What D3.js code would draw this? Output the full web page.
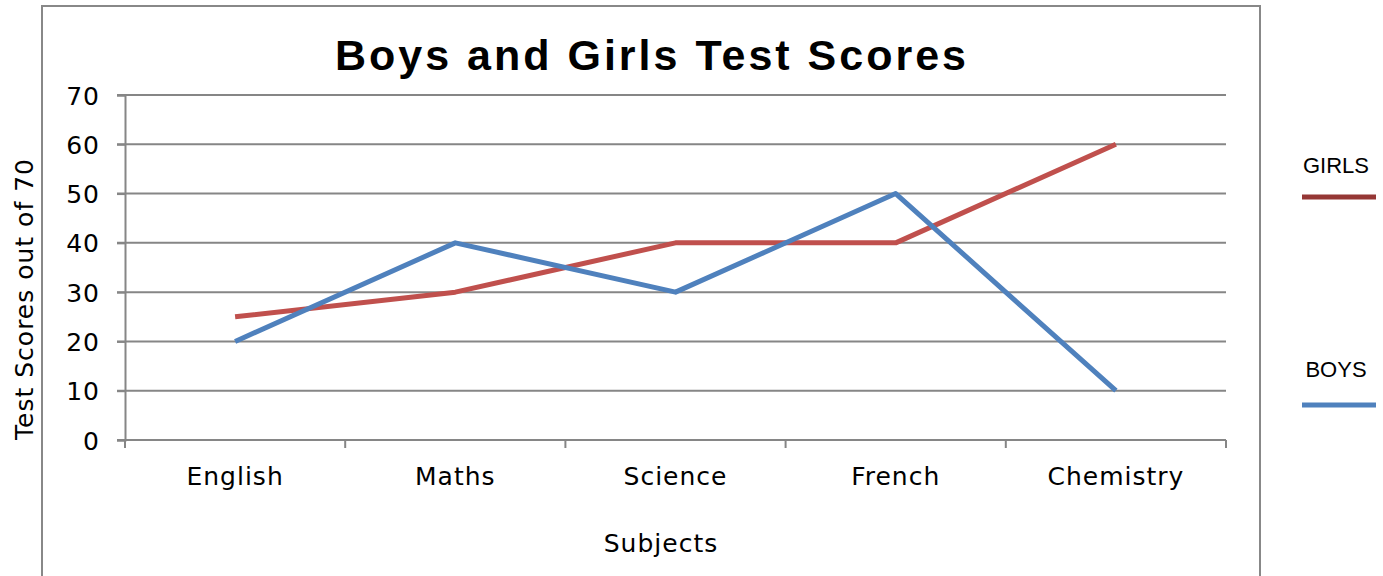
<!DOCTYPE html>
<html>
<head>
<meta charset="utf-8">
<script src="https://cdn.jsdelivr.net/npm/d3@7"></script>
<style>
  body { margin: 0; background: #fff; }
  svg { display: block; }
  .axis text { font-family: "DejaVu Sans", Verdana, sans-serif; font-size: 25px; letter-spacing: 1px; fill: #000; }
  .axis path, .axis line { stroke: #868686; stroke-width: 2px; }
</style>
</head>
<body>
<svg id="chartSvg" width="1383" height="576"></svg>
<script>
var subjects = ["English", "Maths", "Science", "French", "Chemistry"]
var girlsScores = [25, 30, 40, 40, 60]
var boysScores = [20, 40, 30, 50, 10]
var yTicks = [0, 10, 20, 30, 40, 50, 60, 70]

var svg = d3.select('#chartSvg')
var plotLeft = 125, plotRight = 1226, plotTop = 95, plotBottom = 440

// outer chart frame
svg.append('rect')
    .attr('x', 42).attr('y', 6)
    .attr('width', 1218).attr('height', 600)
    .attr('fill', 'none')
    .attr('stroke', '#888').attr('stroke-width', 2)

var xScale = d3.scaleBand().domain(subjects).range([plotLeft, plotRight])
var yScale = d3.scaleLinear().domain([0, 70]).range([plotBottom, plotTop])

// gridlines
svg.append('g').selectAll('line')
    .data(yTicks)
    .enter().append('line')
    .attr('x1', plotLeft - 8).attr('x2', plotRight)
    .attr('y1', d => yScale(d)).attr('y2', d => yScale(d))
    .attr('stroke', '#868686').attr('stroke-width', 2)

var yAxis = d3.axisLeft(yScale).tickValues(yTicks).tickSize(8).tickPadding(17)
svg.append('g')
    .attr('class', 'axis')
    .attr('transform', `translate(${plotLeft},0)`)
    .call(yAxis)
    .call(g => g.selectAll('text').attr('dy', '0.36em'))

// x axis with ticks between categories
var xAxisG = svg.append('g').attr('class', 'axis')
xAxisG.append('line')
    .attr('x1', plotLeft).attr('x2', plotRight)
    .attr('y1', plotBottom).attr('y2', plotBottom)
    .attr('stroke', '#868686').attr('stroke-width', 2)
var edges = subjects.map(s => xScale(s)).concat([plotRight])
xAxisG.selectAll('.xtick')
    .data(edges)
    .enter().append('line')
    .attr('x1', d => d).attr('x2', d => d)
    .attr('y1', plotBottom).attr('y2', plotBottom + 8)
    .attr('stroke', '#868686').attr('stroke-width', 2)
xAxisG.selectAll('.xlabel')
    .data(subjects)
    .enter().append('text')
    .attr('x', d => xScale(d) + xScale.bandwidth() / 2)
    .attr('y', 485)
    .attr('text-anchor', 'middle')
    .text(d => d)

// lines
var line = d3.line()
    .x((d, i) => xScale(subjects[i]) + xScale.bandwidth() / 2)
    .y(d => yScale(d))

svg.append('path')
    .datum(girlsScores)
    .attr('d', line)
    .attr('fill', 'none')
    .attr('stroke', '#C0504D').attr('stroke-width', 5)
    .attr('stroke-linejoin', 'round')

svg.append('path')
    .datum(boysScores)
    .attr('d', line)
    .attr('fill', 'none')
    .attr('stroke', '#4F81BD').attr('stroke-width', 5)
    .attr('stroke-linejoin', 'round')

// title
svg.append('text')
    .attr('x', 652).attr('y', 70)
    .attr('text-anchor', 'middle')
    .attr('font-family', '"Liberation Sans", Arial, sans-serif')
    .attr('font-weight', 'bold')
    .attr('font-size', '43px')
    .attr('letter-spacing', '3px')
    .text('Boys and Girls Test Scores')

// axis titles
svg.append('text')
    .attr('x', 661).attr('y', 552)
    .attr('text-anchor', 'middle')
    .attr('font-family', '"DejaVu Sans", Verdana, sans-serif')
    .attr('font-size', '25px')
    .attr('letter-spacing', '1px')
    .text('Subjects')

svg.append('text')
    .attr('transform', 'translate(33,299) rotate(-90)')
    .attr('text-anchor', 'middle')
    .attr('font-family', '"DejaVu Sans", Verdana, sans-serif')
    .attr('font-size', '25px')
    .attr('letter-spacing', '1px')
    .text('Test Scores out of 70')

// legend
var legendItems = [
    { name: 'GIRLS', color: '#953735', ty: 173, ly: 197 },
    { name: 'BOYS', color: '#4F81BD', ty: 377, ly: 405 }
]
legendItems.forEach(function (item) {
    svg.append('text')
        .attr('x', 1336).attr('y', item.ty)
        .attr('text-anchor', 'middle')
        .attr('font-family', '"Liberation Sans", Arial, sans-serif')
        .attr('font-size', '22px')
        .text(item.name)
    svg.append('line')
        .attr('x1', 1302).attr('x2', 1376)
        .attr('y1', item.ly).attr('y2', item.ly)
        .attr('stroke', item.color).attr('stroke-width', 5)
})
</script>
</body>
</html>
